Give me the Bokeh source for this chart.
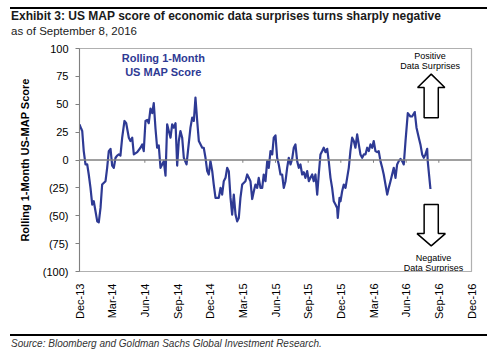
from math import pi
from bokeh.plotting import figure
from bokeh.layouts import column
from bokeh.models import (Range1d, FixedTicker, Label, Span, ColumnDataSource, Div)
from bokeh.embed import file_html
from bokeh.resources import INLINE

# ---- data (x = months since Dec-13) ----
months = [0.0, 0.16, 0.25, 0.39, 0.55, 0.71, 0.85, 1.01, 1.17, 1.31, 1.47, 1.63, 1.77, 1.93,
          2.08, 2.39, 2.54, 2.69, 2.85, 3.0, 3.15, 3.31, 3.46, 3.61, 3.76, 3.92, 4.13, 4.29,
          4.53, 4.68, 4.84, 4.99, 5.30, 5.60, 5.76, 5.90, 6.06, 6.22, 6.36, 6.52, 6.68, 6.82,
          6.98, 7.13, 7.28, 7.44, 7.59, 7.74, 7.90, 8.05, 8.20, 8.36, 8.51, 8.66, 8.82, 8.97,
          9.12, 9.27, 9.43, 9.58, 9.83, 10.19, 10.35, 10.50, 10.65, 10.81, 10.96, 11.27, 11.41,
          11.57, 11.73, 11.87, 12.03, 12.19, 12.33, 12.49, 12.79, 12.95, 13.10, 13.25, 13.41,
          13.56, 13.71, 13.87, 14.02, 14.17, 14.33, 14.48, 14.63, 14.78, 14.94, 15.24, 15.40,
          15.55, 15.70, 15.86, 16.01, 16.16, 16.32, 16.46, 16.62, 16.78, 16.92, 17.08, 17.24,
          17.38, 17.54, 17.70, 17.84, 18.00, 18.15, 18.30, 18.46, 18.61, 18.76, 18.92, 19.07,
          19.22, 19.38, 19.53, 19.68, 19.83, 19.99, 20.14, 20.29, 20.45, 20.60, 20.75, 20.91,
          21.06, 21.21, 21.37, 21.51, 21.67, 21.83, 21.97, 22.13, 22.29, 22.43, 22.59, 22.75,
          22.89, 23.05, 23.20, 23.35, 23.51, 23.66, 23.72, 23.88, 23.97, 24.12, 24.27, 24.43,
          24.58, 24.73, 24.88, 25.04, 25.19, 25.34, 25.50, 25.65, 25.80, 25.96, 26.11, 26.26,
          26.42, 26.57, 26.72, 26.88, 27.02, 27.18, 27.34, 27.48, 27.64, 27.80, 27.94, 28.10,
          28.26, 28.40, 28.56, 28.71, 28.86, 29.02, 29.17, 29.32, 29.48, 29.63, 29.78, 29.94,
          30.15, 30.39, 30.54, 30.79, 30.95, 31.16, 31.31, 31.47, 31.62, 31.77, 31.93, 31.98,
          32.23]
score = [32, 28, 26, 8, -4, -4, -13, -25, -40, -37, -46, -55, -56, -43,
         -22, -19, -7, 8, 10, -5, -7, 2, 4, 5, 4, 20, 35, 33,
         20, 17, 20, 5, 7, 11, 14, 8, 35, 36, 33, 46, 42, 51,
         28, 11, 13, -7, -4, -1, -14, 32, 26, 20, 32, 29, 33, -5,
         17, 26, 20, 2, -4, 29, 38, 35, 56, 35, 17, 11, 11,
         2, -10, -13, -1, -10, -22, -34, -34, -25, -31, -19, -16,
         -7, -10, -34, -49, -31, -49, -55, -52, -34, -22, -19, -13,
         -16, -19, -35, -28, -22, -25, -16, -25, -25, -13, -19, -1,
         -7, 8, 5, 20, 22, 2, -4, -13, -13, -25, -19, -7,
         2, -4, 1, 11, 14, -1, -7, -4, -13, -11, -16, -10,
         -19, -16, -13, -19, -13, -31, -13, 5, 8, 11, 7, 10,
         -1, -16, -25, -37, -40, -43, -52, -34, -37, -28, -22, -25,
         -16, -7, 8, 20, 17, 11, 23, 14, 5, 2, 5, 5,
         11, 8, 14, 11, 17, 8, 7, 8, -1, -7, -13, -22,
         -31, -25, -19, -13, -7, -16, -4, -1, 1, -1, -4, 17,
         42, 39, 39, 43, 29, 20, 14, 5, 2, 5, 10, -1,
         -26]

tick_pos = [0, 3, 6, 9, 12, 15, 18, 21, 24, 27, 30, 33, 36]
tick_labels = ["Dec-13", "Mar-14", "Jun-14", "Sep-14", "Dec-14", "Mar-15", "Jun-15",
               "Sep-15", "Dec-15", "Mar-16", "Jun-16", "Sep-16", "Dec-16"]
y_ticks = [100, 75, 50, 25, 0, -25, -50, -75, -100]
y_tick_labels = ["100", "75", "50", "25", "0", "(25)", "(50)", "(75)", "(100)"]

TITLE = "Exhibit 3: US MAP score of economic data surprises turns sharply negative"
SUBTITLE = "as of September 8, 2016"
SOURCE = "Source: Bloomberg and Goldman Sachs Global Investment Research."

FONT = "Liberation Sans"
BLUE = "#2E3A94"
W = 492
TOP_H = 40      # title block height
FIG_H = 286     # figure height
BOT_H = 26      # source block height

p = figure(width=W, height=FIG_H, output_backend="svg", toolbar_location=None,
           x_range=Range1d(0, 36), y_range=Range1d(-100, 100),
           min_border_left=79, min_border_right=W - 471, min_border_top=48 - TOP_H,
           min_border_bottom=FIG_H - (271 - TOP_H))
p.background_fill_color = "white"
p.border_fill_color = "white"
p.outline_line_color = "#b0b0b0"
p.outline_line_width = 1.2
p.xgrid.visible = False
p.ygrid.visible = False

# x axis
p.xaxis.ticker = FixedTicker(ticks=tick_pos)
p.xaxis.major_label_overrides = {t: l for t, l in zip(tick_pos, tick_labels)}
p.xaxis.major_label_orientation = pi / 2
p.xaxis.major_tick_line_color = None
p.xaxis.minor_tick_line_color = None
p.xaxis.axis_line_color = "#b0b0b0"
p.xaxis.major_label_standoff = 6
p.xaxis.major_label_text_font = FONT
p.xaxis.major_label_text_font_size = "11px"
p.xaxis.major_label_text_color = "black"

# y axis
p.yaxis.ticker = FixedTicker(ticks=y_ticks)
p.yaxis.major_label_overrides = {t: l for t, l in zip(y_ticks, y_tick_labels)}
p.yaxis.major_tick_in = 0
p.yaxis.major_tick_out = 4
p.yaxis.minor_tick_line_color = None
p.yaxis.axis_line_color = "#808080"
p.yaxis.major_tick_line_color = "#808080"
p.yaxis.major_label_standoff = 7
p.yaxis.major_label_text_font = FONT
p.yaxis.major_label_text_font_size = "11px"
p.yaxis.major_label_text_color = "black"
p.yaxis.axis_label = "Rolling 1-Month US-MAP Score"
p.yaxis.axis_label_text_font = FONT
p.yaxis.axis_label_text_font_size = "11px"
p.yaxis.axis_label_text_font_style = "bold"
p.yaxis.axis_label_text_color = "black"
p.yaxis.axis_label_standoff = 9

# zero line with small ticks
p.add_layout(Span(location=0, dimension="width", line_color="#808080", line_width=1.5))
zt = [t for t in tick_pos[1:-1]]
p.segment(x0=zt, y0=[0] * len(zt), x1=zt, y1=[-2.5] * len(zt), line_color="#808080", line_width=1)

# data line
src = ColumnDataSource(dict(x=months, y=score))
p.line("x", "y", source=src, line_color=BLUE, line_width=2.2, line_join="round")

# arrows (decorations, in data units)
ax = [32.3, 33.55, 32.95, 32.95, 31.65, 31.65, 31.05]
ay = [77, 65, 65, 38, 38, 65, 65]
p.patch(ax, ay, fill_color="white", line_color="black", line_width=1.5)
bx = [32.3, 33.6, 32.95, 32.95, 31.65, 31.65, 31.0]
by = [-77, -66, -66, -40, -40, -66, -66]
p.patch(bx, by, fill_color="white", line_color="black", line_width=1.5)

def lab(text, x, y, size, bold=False, color="black"):
    p.add_layout(Label(x=x, y=y, text=text, text_font=FONT, text_font_size=size,
                       text_font_style="bold" if bold else "normal",
                       text_color=color, text_align="center", text_baseline="middle"))

lab("Positive", 32.2, 93.3, "9px")
lab("Data Surprises", 32.2, 84.3, "9px")
lab("Negative", 32.5, -87.6, "9px")
lab("Data Surprises", 32.5, -96.6, "9px")
lab("Rolling 1-Month", 7.7, 91.7, "11px", bold=True, color=BLUE)
lab("US MAP Score", 7.7, 79.2, "11px", bold=True, color=BLUE)

ff = "font-family:'Liberation Sans',Arial,sans-serif;"
title_html = (
    f"<div style=\"{ff}margin:7px 0 0 10px;width:477px;border-top:2px solid black;color:#1a1a1a;\">"
    f"<div style=\"font-weight:bold;font-size:12px;line-height:14px;padding-left:1px;white-space:nowrap;\">{TITLE}</div>"
    f"<div style=\"font-size:11.5px;line-height:13px;margin-top:2px;padding-left:1px;white-space:nowrap;\">{SUBTITLE}</div>"
    f"</div>")
source_html = (
    f"<div style=\"{ff}margin:8px 0 0 10px;width:477px;border-top:2px solid black;color:#333333;\">"
    f"<div style=\"font-style:italic;font-size:10px;line-height:11px;margin-top:2px;padding-left:1px;white-space:nowrap;\">{SOURCE}</div>"
    f"</div>")

top = Div(text=title_html, width=W, height=TOP_H, margin=0)
bot = Div(text=source_html, width=W, height=BOT_H, margin=0)

layout = column(top, p, bot, spacing=0, margin=0)
open("out.html", "w").write(file_html(layout, INLINE))
